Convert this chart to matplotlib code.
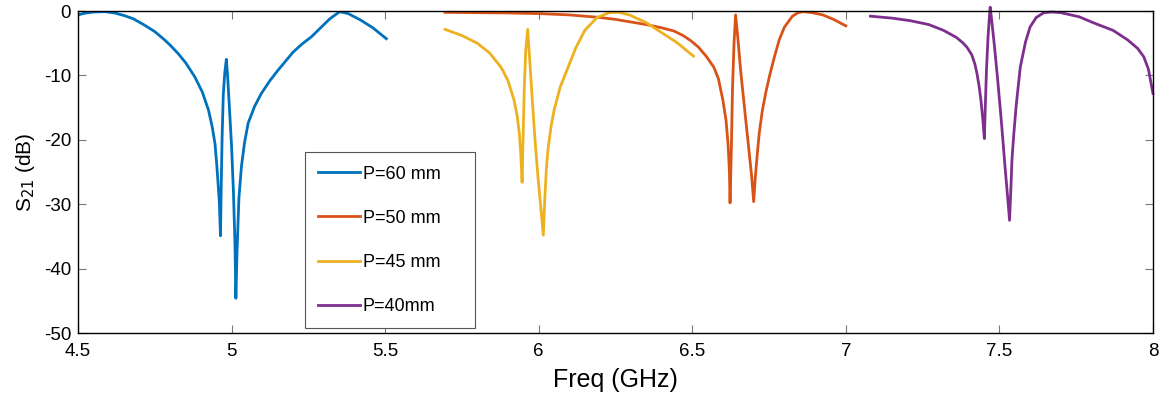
import matplotlib
matplotlib.use("Agg")
import matplotlib.pyplot as plt

plt.rcParams['font.family'] = ['Liberation Sans', 'DejaVu Sans']
plt.rcParams['axes.unicode_minus'] = False

# P=60 mm
f60 = [4.50, 4.52, 4.55, 4.587, 4.62, 4.65, 4.68, 4.717, 4.75, 4.78, 4.80, 4.826,
       4.85, 4.88, 4.905, 4.925, 4.937, 4.946, 4.952, 4.960, 4.964,
       4.966, 4.969, 4.973, 4.978, 4.983,
       4.987, 4.993, 5.000, 5.006, 5.011, 5.014,
       5.018, 5.024, 5.032, 5.042, 5.054, 5.075, 5.097, 5.125, 5.151, 5.20, 5.23,
       5.26, 5.29, 5.32, 5.352, 5.38, 5.42, 5.46, 5.504]
s60 = [-0.6, -0.35, -0.15, -0.1, -0.3, -0.7, -1.2, -2.2, -3.2, -4.4, -5.3, -6.6,
       -8.0, -10.2, -12.6, -15.4, -18.0, -20.6, -24.0, -29.5, -34.9,
       -28.0, -20.0, -13.0, -9.5, -7.5,
       -10.0, -15.0, -21.0, -28.0, -36.0, -44.6,
       -37.0, -29.0, -24.2, -20.5, -17.4, -14.8, -12.8, -10.8, -9.2, -6.4, -5.1,
       -4.0, -2.6, -1.2, -0.1, -0.4, -1.4, -2.6, -4.3]

# P=50 mm
f50 = [5.695, 5.80, 5.90, 6.003, 6.10, 6.20, 6.25, 6.30, 6.35, 6.40, 6.44, 6.47,
       6.495, 6.52, 6.545, 6.57, 6.585, 6.60, 6.61, 6.617, 6.621, 6.623,
       6.627, 6.631, 6.636, 6.641,
       6.648, 6.658, 6.670, 6.682, 6.693, 6.700,
       6.705, 6.712, 6.718, 6.728, 6.740, 6.751, 6.767, 6.783, 6.80, 6.826, 6.845,
       6.86, 6.89, 6.925, 6.96, 7.0]
s50 = [-0.2, -0.25, -0.3, -0.4, -0.6, -1.0, -1.3, -1.7, -2.1, -2.6, -3.1, -3.8,
       -4.6, -5.6, -7.0, -8.7, -10.5, -13.9, -17.0, -21.0, -25.0, -29.8,
       -22.0, -12.0, -5.0, -0.6,
       -4.0, -9.5, -15.0, -20.5, -25.5, -29.6,
       -26.0, -22.0, -19.0, -15.5, -12.5, -10.2, -7.2, -4.5, -2.5, -0.8, -0.25,
       -0.1, -0.25, -0.6, -1.3, -2.3]

# P=45 mm
f45 = [5.695, 5.75, 5.80, 5.84, 5.877, 5.90, 5.92, 5.93, 5.937, 5.942, 5.946,
       5.949, 5.953, 5.958, 5.964,
       5.970, 5.978, 5.988, 5.998, 6.008, 6.015,
       6.020, 6.025, 6.03, 6.04, 6.05, 6.07, 6.096, 6.12, 6.15, 6.19, 6.23, 6.26,
       6.295, 6.35, 6.405, 6.45, 6.504]
s45 = [-2.85, -3.8, -5.0, -6.5, -8.7, -10.8, -13.9, -16.3, -19.0, -22.5, -26.6,
       -20.0, -12.0, -6.0, -2.85,
       -7.0, -13.0, -20.0, -26.0, -31.0, -34.8,
       -29.0, -24.5, -21.6, -18.0, -15.4, -11.8, -8.7, -5.8, -3.0, -1.0, -0.25, -0.2,
       -0.6, -1.8, -3.5, -4.9, -7.0]

# P=40 mm
f40 = [7.08, 7.15, 7.21, 7.27, 7.318, 7.36, 7.38, 7.394, 7.41, 7.42, 7.427, 7.434,
       7.44, 7.446, 7.451,
       7.454, 7.458, 7.463, 7.468, 7.470,
       7.475, 7.484, 7.495, 7.507, 7.518, 7.527, 7.533,
       7.537, 7.541, 7.547, 7.555, 7.568, 7.585, 7.60, 7.62, 7.645, 7.67, 7.70,
       7.76, 7.81, 7.87, 7.918, 7.95, 7.97, 7.985, 8.0]
s40 = [-0.8, -1.1, -1.5, -2.1, -3.0, -4.1, -4.9, -5.6, -6.8, -8.2, -9.7, -11.7,
       -13.9, -16.8, -19.8,
       -15.0, -9.0, -4.0, -0.5, 0.6,
       -1.5, -5.5, -11.0, -17.5, -24.0, -29.0, -32.5,
       -28.0, -23.0, -19.0, -14.5, -8.7, -4.8, -2.45, -1.0, -0.25, -0.15, -0.25,
       -0.9, -1.9, -3.0, -4.5, -5.8, -7.1, -9.0, -12.8]

labels = ['P=60 mm', 'P=50 mm', 'P=45 mm', 'P=40mm']
colors = ['#0072BD', '#D95319', '#EDB120', '#7E2F8E']

fig = plt.figure(figsize=(11.59, 3.97), dpi=100)
ax = fig.add_axes([0.0673, 0.1612, 0.9275, 0.811])

ax.plot(f60, s60, color=colors[0], lw=2, label=labels[0])
ax.plot(f50, s50, color=colors[1], lw=2, label=labels[1])
ax.plot(f45, s45, color=colors[2], lw=2, label=labels[2])
ax.plot(f40, s40, color=colors[3], lw=2, label=labels[3], clip_on=False)

ax.set_xlim(4.5, 8)
ax.set_ylim(-50, 0)
ax.set_xticks([4.5, 5, 5.5, 6, 6.5, 7, 7.5, 8])
ax.set_xticklabels(['4.5', '5', '5.5', '6', '6.5', '7', '7.5', '8'])
ax.set_yticks([0, -10, -20, -30, -40, -50])
ax.tick_params(direction='in', top=True, right=True, length=6, width=0.8,
               color='#777777', labelsize=13.5)
ax.tick_params(axis='x', pad=7)
ax.tick_params(axis='y', pad=5)
for s in ax.spines.values():
    s.set_linewidth(1.0)

ax.set_xlabel('Freq (GHz)', fontsize=18, labelpad=6)
ax.set_ylabel('S$_{21}$ (dB)', fontsize=15, labelpad=5)

leg = ax.legend(loc='lower left', bbox_to_anchor=(0.211, 0.014, 0.158, 0.55),
                mode='expand', fontsize=13, frameon=True, fancybox=False,
                framealpha=1, edgecolor='#555555', labelspacing=1.5,
                handlelength=2.3, handletextpad=0.15, borderpad=0.75,
                borderaxespad=0)
leg.get_frame().set_linewidth(0.8)

fig.savefig('out.png', dpi=100)
